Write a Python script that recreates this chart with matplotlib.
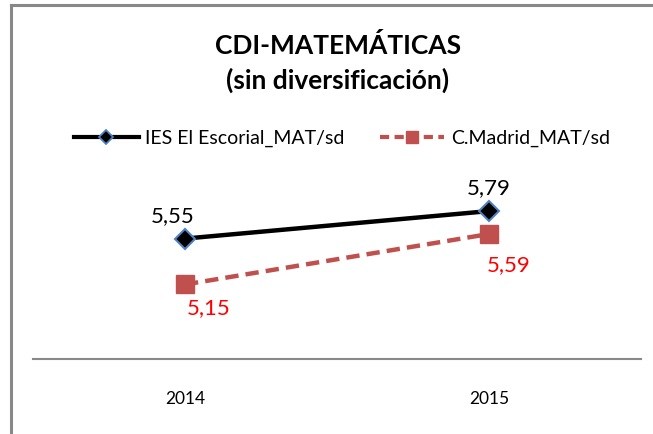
import matplotlib.pyplot as plt
from matplotlib.lines import Line2D

years = ["2014", "2015"]
ies = [5.55, 5.79]
madrid = [5.15, 5.59]
ies_labels = ["5,55", "5,79"]
madrid_labels = ["5,15", "5,59"]

plt.rcParams['font.family'] = ['Lato', 'DejaVu Sans']

fig = plt.figure(figsize=(6.53, 4.34), dpi=100)
W, H = 653, 434

# plot area in pixels: x 33..641, y 187..359
ax = fig.add_axes([33 / W, 1 - 359 / H, 608 / W, (359 - 187) / H])
x = [0, 1]
ax.plot(x, madrid, color="#C0504D", lw=3.2, ls=(0, (3, 1.6)), marker="s",
        markersize=13, markerfacecolor="#C0504D", markeredgecolor="#C0504D", zorder=3)
ax.plot(x, ies, color="black", lw=3.2, marker="D", markersize=10,
        markerfacecolor="black", markeredgecolor="#4F81BD", markeredgewidth=1.5, zorder=4)

ax.set_xlim(-0.5, 1.5)
ax.set_ylim(4.5, 6.0)
ax.set_yticks([])
ax.set_xticks(x)
ax.set_xticklabels(years, fontsize=12.5)
ax.tick_params(axis="x", length=0, pad=23)
for s in ["top", "right", "left"]:
    ax.spines[s].set_visible(False)
ax.spines["bottom"].set_color("#888888")
ax.spines["bottom"].set_linewidth(1.5)

offs_ies = [(-9, 9), (0, 9)]
for i, (v, t) in enumerate(zip(ies, ies_labels)):
    ax.annotate(t, (i, v), xytext=offs_ies[i], textcoords="offset points",
                ha="center", va="bottom", fontsize=16, color="black", annotation_clip=False)
offs_mad = [(17, -10), (14, -15)]
for i, (v, t) in enumerate(zip(madrid, madrid_labels)):
    ax.annotate(t, (i, v), xytext=offs_mad[i], textcoords="offset points",
                ha="center", va="top", fontsize=16, color="red", annotation_clip=False)

fig.text(338 / W, 1 - 45 / H, "CDI-MATEMÁTICAS", ha="center", va="center",
         fontsize=19, fontweight="bold")
fig.text(338 / W, 1 - 80 / H, "(sin diversificación)", ha="center", va="center",
         fontsize=19, fontweight="bold")

handles = [
    Line2D([], [], color="black", lw=3, marker="D", markersize=7,
           markerfacecolor="black", markeredgecolor="#4F81BD", markeredgewidth=1.3),
    Line2D([], [], color="#C0504D", lw=3, ls=(0, (2.2, 1.3)), marker="s", markersize=9,
           markerfacecolor="#C0504D", markeredgecolor="#C0504D"),
]
fig.legend(handles, ["IES El Escorial_MAT/sd", "C.Madrid_MAT/sd"], ncol=2,
           loc="center", bbox_to_anchor=(342 / W, 1 - 138 / H), frameon=False,
           fontsize=14, handlelength=3.3, columnspacing=1.8, handletextpad=0.35)

# chart frame (left and top edges)
fig.add_artist(Line2D([11 / W, 11 / W], [0, 1 - 5 / H], color="#888888", lw=2.2))
fig.add_artist(Line2D([11 / W, 1], [1 - 5 / H, 1 - 5 / H], color="#888888", lw=2.2))

fig.savefig("out.png", dpi=100)
